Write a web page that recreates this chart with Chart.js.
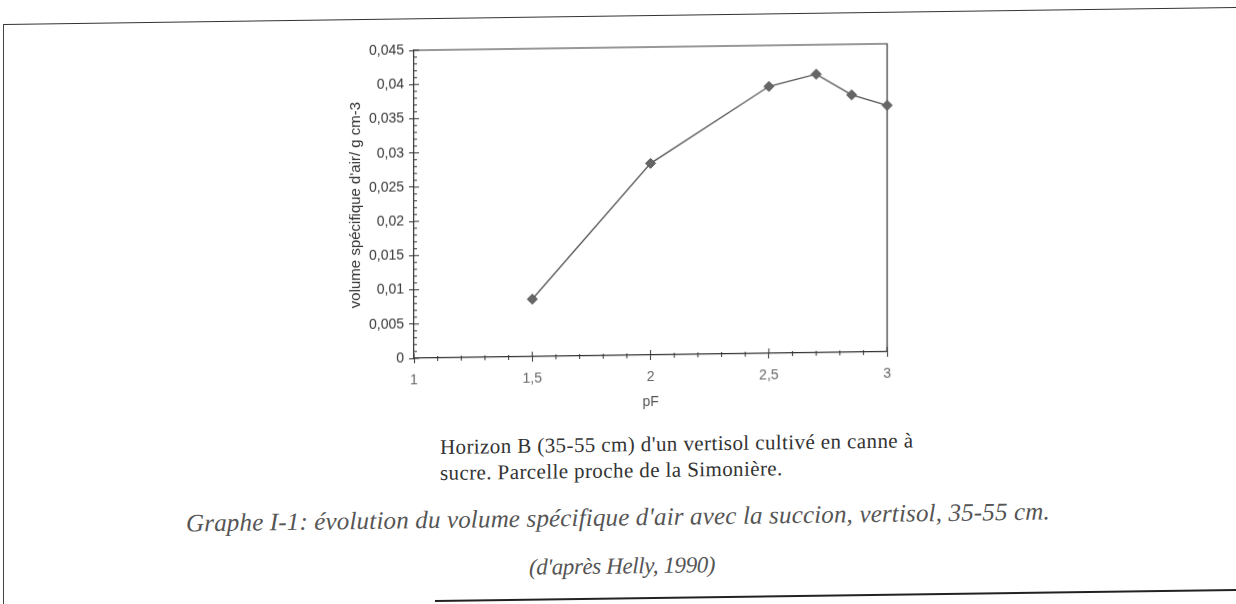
<!DOCTYPE html>
<html>
<head>
<meta charset="utf-8">
<script src="https://cdn.jsdelivr.net/npm/chart.js@4.4.1/dist/chart.umd.min.js"></script>
<style>
  html, body { margin: 0; padding: 0; background: #fff; width: 1236px; height: 604px; overflow: hidden; }
  #page { position: absolute; left: 0; top: 0; width: 1236px; height: 640px; transform: skewY(-0.79deg); transform-origin: 0 0; }
  #frameTop { position: absolute; left: 4px; top: 24px; width: 1232px; height: 0; border-top: 1.6px solid #333; }
  #frameLeft { position: absolute; left: 3px; top: 24px; width: 0; height: 620px; border-left: 1.6px solid #444; }
  #frameBottom { position: absolute; left: 435px; top: 606px; width: 801px; height: 0; border-top: 2px solid #222; }
  #chartBox { position: absolute; left: 300px; top: 20px; width: 600px; height: 420px; }
  #cap1 { position: absolute; left: 440px; top: 440px; font-family: "Liberation Serif", "Times New Roman", serif; font-size: 21px; letter-spacing: 0.4px; line-height: 26px; color: #333; white-space: nowrap; }
  #cap2 { position: absolute; left: 0; width: 1236px; top: 512px; text-align: center; font-family: "Liberation Serif", "Times New Roman", serif; font-style: italic; font-size: 25px; letter-spacing: 0.16px; color: #555; white-space: nowrap; }
  #cap2 .l2 { display: block; margin-left: 8px; margin-top: 22px; font-size: 23px; letter-spacing: -0.4px; }
</style>
</head>
<body>
<div id="page">
  <div id="frameTop"></div>
  <div id="frameLeft"></div>
  <div id="frameBottom"></div>
  <div id="chartBox"><canvas id="c" width="600" height="420"></canvas></div>
  <div id="cap1">Horizon B (35-55 cm) d'un vertisol cultivé en canne à<br>sucre. Parcelle proche de la Simonière.</div>
  <div id="cap2"><span>Graphe I-1: évolution du volume spécifique d'air avec la succion, vertisol, 35-55 cm.</span><span class="l2">(d'après Helly, 1990)</span></div>
</div>
<script>
// ---- data ----
const pF = [1.5, 2, 2.5, 2.7, 2.85, 3];
const volumeAir = [0.0084, 0.0280, 0.0390, 0.0407, 0.0376, 0.0360];
const xTickValues = [1, 1.5, 2, 2.5, 3];
const xTickLabels = ["1", "1,5", "2", "2,5", "3"];
const yTickValues = [0, 0.005, 0.01, 0.015, 0.02, 0.025, 0.03, 0.035, 0.04, 0.045];
const yTickLabels = ["0", "0,005", "0,01", "0,015", "0,02", "0,025", "0,03", "0,035", "0,04", "0,045"];
const xTitle = "pF";
const yTitle = "volume spécifique d'air/ g cm-3";

const axisColor = '#333';
const sans = "'Liberation Sans', Arial, sans-serif";

const frameTicks = {
  id: 'frameTicks',
  beforeDatasetsDraw(chart) {
    const {ctx, chartArea: a, scales: {x, y}} = chart;
    ctx.save();
    ctx.strokeStyle = axisColor;
    ctx.lineWidth = 1.2;
    ctx.beginPath();
    ctx.moveTo(a.left, a.top); ctx.lineTo(a.right, a.top); ctx.lineTo(a.right, a.bottom);
    ctx.stroke();
    ctx.lineWidth = 1;
    ctx.beginPath();
    yTickValues.forEach(v => { const p = y.getPixelForValue(v); ctx.moveTo(a.left, p); ctx.lineTo(a.left + 5, p); });
    for (let i = 0; i <= 45; i++) {
      if (i % 5 === 0) continue;
      const p = y.getPixelForValue(i / 1000);
      ctx.moveTo(a.left, p); ctx.lineTo(a.left + 3, p);
    }
    xTickValues.forEach(v => { const p = x.getPixelForValue(v); ctx.moveTo(p, a.bottom); ctx.lineTo(p, a.bottom - 5); });
    for (let i = 10; i <= 30; i++) {
      if (i % 5 === 0) continue;
      const p = x.getPixelForValue(i / 10);
      ctx.moveTo(p, a.bottom - 2); ctx.lineTo(p, a.bottom + 3);
    }
    ctx.stroke();
    ctx.restore();
  }
};

new Chart(document.getElementById('c'), {
  type: 'scatter',
  data: {
    datasets: [{
      data: pF.map((v, i) => ({x: v, y: volumeAir[i]})),
      showLine: true,
      borderColor: '#555',
      borderWidth: 1.3,
      backgroundColor: '#666',
      pointStyle: 'rectRot',
      pointRadius: 5,
      pointBorderColor: '#555',
      pointBorderWidth: 1,
      clip: false
    }]
  },
  options: {
    responsive: false,
    animation: false,
    devicePixelRatio: 1,
    layout: { padding: { left: 0, right: 12, top: 36, bottom: 0 } },
    plugins: { legend: { display: false }, tooltip: { enabled: false } },
    scales: {
      x: {
        type: 'linear', min: 1, max: 3,
        afterBuildTicks: s => { s.ticks = xTickValues.map(v => ({value: v})); },
        afterFit: s => { s.height = 76; },
        ticks: {
          callback: (v) => xTickLabels[xTickValues.indexOf(v)],
          color: '#666', padding: 9, maxRotation: 0,
          font: { family: sans, size: 14 }
        },
        grid: { drawOnChartArea: false, drawTicks: true, tickLength: 5, color: axisColor, lineWidth: 1 },
        border: { display: true, color: axisColor, width: 1.2 },
        title: { display: true, text: xTitle, color: '#555', padding: { top: 0, bottom: 20 },
          font: { family: sans, size: 14 } }
      },
      y: {
        type: 'linear', min: 0, max: 0.045,
        afterBuildTicks: s => { s.ticks = yTickValues.map(v => ({value: v})); },
        afterFit: s => { s.width = 114; },
        ticks: {
          callback: (v) => yTickLabels[yTickValues.findIndex(t => Math.abs(t - v) < 1e-9)],
          color: '#333', padding: 5,
          font: { family: sans, size: 14 }
        },
        grid: { drawOnChartArea: false, drawTicks: true, tickLength: 5, color: axisColor, lineWidth: 1 },
        border: { display: true, color: axisColor, width: 1.2 },
        title: { display: true, text: yTitle, color: '#333', padding: { top: 47, bottom: 0 },
          font: { family: sans, size: 15 } }
      }
    }
  },
  plugins: [frameTicks]
});
</script>
</body>
</html>
